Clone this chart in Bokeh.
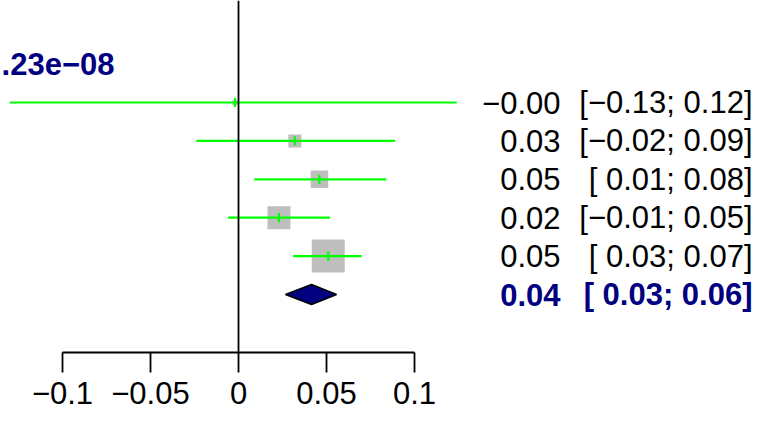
import math
from bokeh.plotting import figure
from bokeh.models import Range1d, LinearAxis, FixedTicker, CustomJSTickFormatter, ColumnDataSource, Span
from bokeh.core.properties import value
from bokeh.embed import file_html
from bokeh.resources import INLINE

# ---- data ----
study_est = [-0.002, 0.032, 0.046, 0.023, 0.051]
study_lower = [-0.130, -0.024, 0.009, -0.006, 0.031]
study_upper = [0.124, 0.089, 0.084, 0.052, 0.070]
study_weight = [1.2, 8.0, 14.5, 25.0, 51.4]
pooled_est = 0.0415
pooled_lower = 0.0267
pooled_upper = 0.0557
est_labels = ["\u22120.00", "0.03", "0.05", "0.02", "0.05"]
ci_labels = ["[\u22120.13; 0.12]", "[\u22120.02; 0.09]", "[ 0.01; 0.08]", "[\u22120.01; 0.05]", "[ 0.03; 0.07]"]
pooled_est_label = "0.04"
pooled_ci_label = "[ 0.03; 0.06]"
pval_label = ".23e\u221208"
x_ticks = [-0.1, -0.05, 0, 0.05, 0.1]

# ---- layout constants ----
W, H = 754, 411
FRAME_H = 352
PX_PER_UNIT = 1760.0
X0_PX = 238.0
ROW0_PX = 102.0
ROW_PX = 38.4
FONT = "Liberation Sans"
FS = "31px"
NAVY = "#000080"
GREEN = "#00FF00"

x_start = -X0_PX / PX_PER_UNIT
x_end = (W - X0_PX) / PX_PER_UNIT
y_bottom = (FRAME_H - ROW0_PX) / ROW_PX
y_top = -ROW0_PX / ROW_PX

rows = list(range(len(study_est)))
pooled_row = len(study_est)

p = figure(width=W, height=H, output_backend="svg", toolbar_location=None,
           x_range=Range1d(x_start, x_end), y_range=Range1d(y_bottom, y_top),
           x_axis_type=None, y_axis_type=None,
           min_border_left=0, min_border_right=0, min_border_top=0, min_border_bottom=H - FRAME_H)
p.outline_line_color = None
p.background_fill_color = "white"
p.border_fill_color = "white"

src = ColumnDataSource(dict(
    y=rows, est=study_est, lo=study_lower, hi=study_upper,
    size=[4.6 * math.sqrt(w) for w in study_weight],
    y0=[r - 0.12 for r in rows], y1=[r + 0.12 for r in rows],
    est_lab=est_labels, ci_lab=ci_labels,
))

p.scatter(x="est", y="y", size="size", marker="square", source=src,
          fill_color="#BEBEBE", line_color=None)
p.segment(x0="lo", y0="y", x1="hi", y1="y", source=src, line_color=GREEN, line_width=2.2)
p.segment(x0="est", y0="y0", x1="est", y1="y1", source=src, line_color=GREEN, line_width=2.2)

dh = 0.26
p.patch(x=[pooled_lower, pooled_est, pooled_upper, pooled_est],
        y=[pooled_row, pooled_row - dh, pooled_row, pooled_row + dh],
        fill_color=NAVY, line_color="black", line_width=1.5)

p.add_layout(Span(location=0, dimension="height", line_color="black", line_width=1.8))

EST_X = (560 - X0_PX) / PX_PER_UNIT
CI_X = (752 - X0_PX) / PX_PER_UNIT
p.text(x=EST_X, y="y", text="est_lab", source=src, text_align="right", text_baseline="middle",
       text_font=value(FONT), text_font_size=FS, text_color="black")
p.text(x=CI_X, y="y", text="ci_lab", source=src, text_align="right", text_baseline="middle",
       text_font=value(FONT), text_font_size=FS, text_color="black")
p.text(x=[EST_X], y=[pooled_row], text=[pooled_est_label], text_align="right", text_baseline="middle",
       text_font=value(FONT), text_font_size=FS, text_font_style="bold", text_color=NAVY)
p.text(x=[CI_X], y=[pooled_row], text=[pooled_ci_label], text_align="right", text_baseline="middle",
       text_font=value(FONT), text_font_size=FS, text_font_style="bold", text_color=NAVY)
p.text(x=[(114 - X0_PX) / PX_PER_UNIT], y=[(63 - ROW0_PX) / ROW_PX], text=[pval_label],
       text_align="right", text_baseline="middle",
       text_font=value(FONT), text_font_size=FS, text_font_style="bold", text_color=NAVY)

ax = LinearAxis(ticker=FixedTicker(ticks=x_ticks, minor_ticks=[]), bounds=(-0.1, 0.1),
                formatter=CustomJSTickFormatter(code="return (tick < 0 ? '\u2212' : '') + Math.abs(tick).toString();"))
ax.axis_line_width = 1.8
ax.major_tick_line_width = 1.8
ax.major_tick_out = 20
ax.major_tick_in = 0
ax.minor_tick_line_color = None
ax.major_label_standoff = 9
ax.major_label_text_font = FONT
ax.major_label_text_font_size = FS
ax.major_label_text_line_height = 0.8
ax.major_label_text_color = "black"
p.add_layout(ax, "below")

open("out.html", "w").write(file_html(p, INLINE))
